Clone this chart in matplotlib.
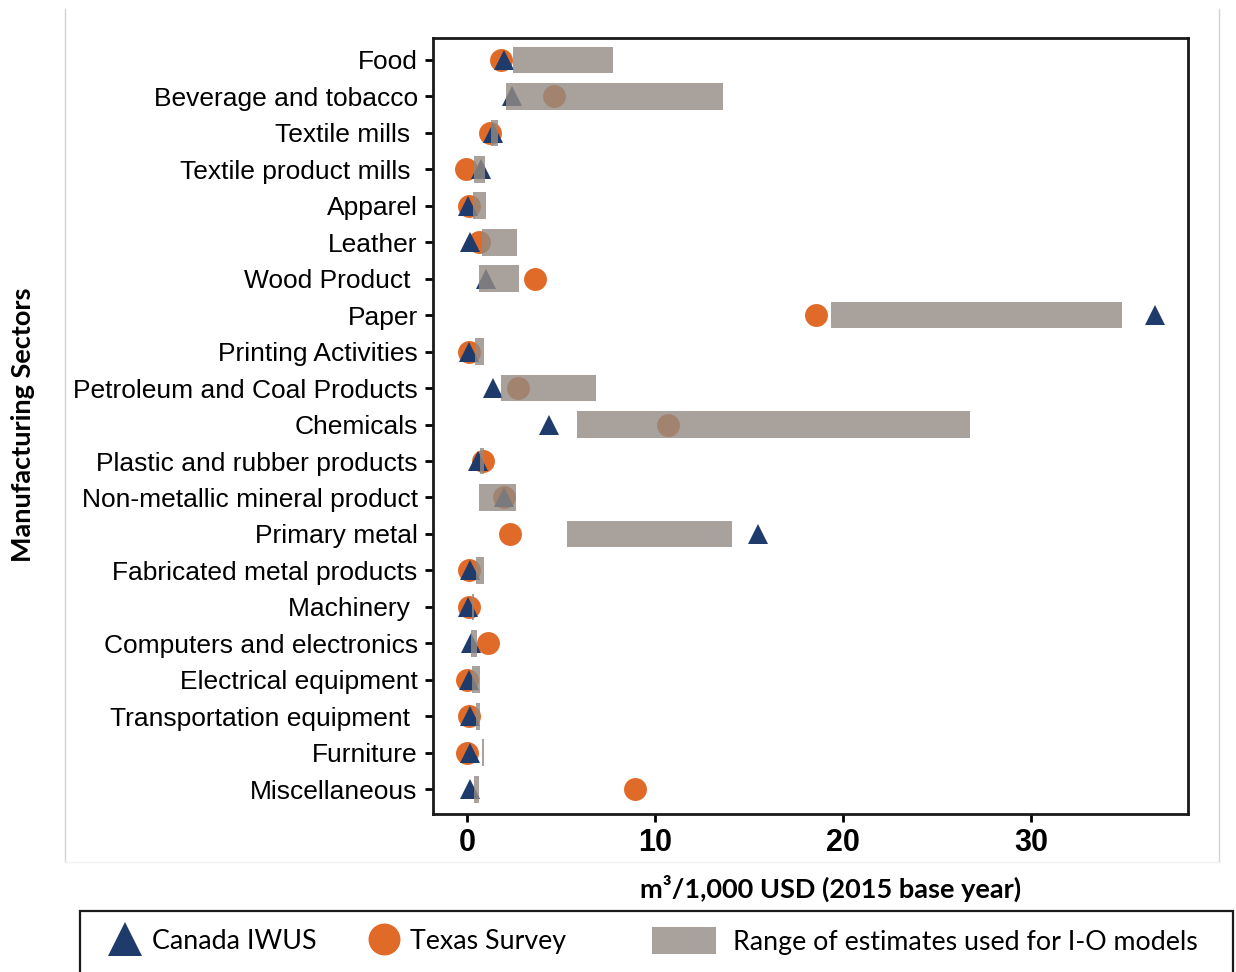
import matplotlib.pyplot as plt
import numpy as np
from matplotlib.lines import Line2D
from matplotlib.patches import Patch, Rectangle

# data (m3 / 1,000 USD)
sectors = ["Food", "Beverage and tobacco", "Textile mills ", "Textile product mills ",
           "Apparel", "Leather", "Wood Product ", "Paper", "Printing Activities",
           "Petroleum and Coal Products", "Chemicals", "Plastic and rubber products",
           "Non-metallic mineral product", "Primary metal", "Fabricated metal products",
           "Machinery ", "Computers and electronics", "Electrical equipment",
           "Transportation equipment ", "Furniture", "Miscellaneous"]
canada = [1.97, 2.38, 1.37, 0.73, 0.07, 0.16, 1.01, 36.6, 0.12, 1.4, 4.38,
          0.6, 1.97, 15.5, 0.16, 0.07, 0.2, 0.1, 0.16, 0.16, 0.16]
texas = [1.8, 4.63, 1.22, -0.05, 0.12, 0.65, 3.62, 18.56, 0.12, 2.73, 10.69,
         0.87, 1.95, 2.29, 0.12, 0.12, 1.13, 0.0, 0.12, 0.0, 8.94]
range_lo = [2.43, 2.07, 1.31, 0.36, 0.34, 0.78, 0.62, 19.36, 0.46, 1.81, 5.87,
            0.69, 0.62, 5.34, 0.48, 0.25, 0.23, 0.27, 0.48, 0.81, 0.37]
range_hi = [7.75, 13.6, 1.67, 0.99, 1.03, 2.68, 2.78, 34.84, 0.9, 6.85, 26.75,
            0.9, 2.59, 14.1, 0.89, 0.37, 0.55, 0.69, 0.71, 0.9, 0.64]
xticks = [0, 10, 20, 30]

NAVY = "#1f3b6b"
ORANGE = "#e06a28"
GREY = "#938a83"
W, H = 1236, 972

fig = plt.figure(figsize=(W / 100, H / 100), dpi=100)
ax = fig.add_axes([433 / W, 1 - 814 / H, (1188 - 433) / W, (814 - 38) / H])

y = np.arange(len(sectors))
lo = np.array(range_lo)
hi = np.array(range_hi)

ax.plot(texas, y, "o", color=ORANGE, markersize=16.5, markeredgewidth=0, zorder=2)
ax.plot(canada, y, "^", color=NAVY, markersize=14.5, markeredgewidth=0, zorder=3)
ax.barh(y, hi - lo, left=lo, height=0.73, color=GREY, alpha=0.8,
        edgecolor="none", zorder=4)

ax.set_xlim(-1.8, 38.35)
ax.set_ylim(len(sectors) - 1 + 0.68, -0.6)
ax.set_yticks(y)
ax.set_yticklabels(sectors, fontsize=19, family=["Liberation Sans", "DejaVu Sans"])
ax.set_xticks(xticks)
ax.set_xticklabels([str(t) for t in xticks], fontsize=22, fontweight="bold",
                   family=["Liberation Sans Narrow", "Liberation Sans", "DejaVu Sans"])
ax.tick_params(axis="y", length=6, width=2, pad=5)
ax.tick_params(axis="x", length=6, width=2, pad=4)
for s in ax.spines.values():
    s.set_linewidth(2)
    s.set_color("#1a1a1a")

ax.set_xlabel("m\u00b3/1,000 USD (2015 base year)", fontsize=19.5, fontweight="bold",
              family=["Lato", "DejaVu Sans"], va="center")
ax.xaxis.set_label_coords((831 - 433) / 755, -(888 - 814) / 776)
ax.set_ylabel("Manufacturing Sectors", fontsize=19.5, fontweight="bold",
              family=["Lato", "DejaVu Sans"], va="center")
ax.yaxis.set_label_coords((23 - 433) / 755, (814 - 425) / 776)

# faint panel border
for xp in (65, 1219):
    fig.add_artist(Line2D([xp / W, xp / W], [1 - 9 / H, 1 - 862 / H],
                          transform=fig.transFigure, color="#d4d4d4", lw=1))
fig.add_artist(Line2D([65 / W, 1219 / W], [1 - 862 / H, 1 - 862 / H],
                      transform=fig.transFigure, color="#f2f2f2", lw=1))

# legend box below the plot
fig.add_artist(Rectangle((80 / W, -0.01), (1233 - 80) / W, (0.01 + 1 - 911 / H),
                         transform=fig.transFigure, fill=False, ec="#1a1a1a", lw=1.6))
lfont = {"family": ["Lato", "DejaVu Sans"], "size": 19.3}
ly = 1 - 941 / H
common = dict(loc="center left", frameon=False, borderpad=0, borderaxespad=0, prop=lfont)
fig.legend(handles=[Line2D([], [], ls="none", marker="^", color=NAVY,
                           markersize=25, markeredgewidth=0)],
           labels=["Canada IWUS"], bbox_to_anchor=(107 / W, ly),
           handlelength=1.34, handletextpad=0.34, **common)
fig.legend(handles=[Line2D([], [], ls="none", marker="o", color=ORANGE,
                           markersize=23, markeredgewidth=0)],
           labels=["Texas Survey"], bbox_to_anchor=(369 / W, ly),
           handlelength=1.12, handletextpad=0.41, **common)
fig.legend(handles=[Patch(facecolor=GREY, alpha=0.8, edgecolor="none")],
           labels=["Range of estimates used for I-O models"],
           bbox_to_anchor=(652 / W, ly), handlelength=2.39, handleheight=1.12,
           handletextpad=0.63, **common)

fig.savefig("out.png", dpi=100)
